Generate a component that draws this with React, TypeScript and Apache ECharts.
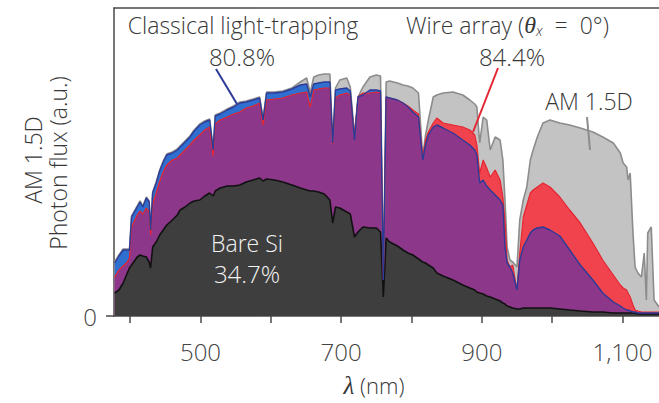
import React, { useEffect, useRef } from "react";
import * as echarts from "echarts";

// Wavelength grid (nm)
const wavelengths = [
  378, 384, 390, 396, 399, 402, 410, 414, 418, 423, 427, 429, 432, 437, 442, 447, 452, 460, 467, 471,
  478, 485, 491, 499, 506, 513, 518, 521, 528, 538, 547, 556, 565, 575, 584, 589, 594, 605, 617, 630,
  642, 651, 656, 661, 668, 676, 684, 688, 692, 698, 708, 713, 719, 724, 731, 741, 750, 756, 760, 764,
  769, 780, 788, 795, 802, 810, 816, 820, 824, 831, 836, 845, 859, 873, 883, 890, 893, 897, 902, 907,
  912, 919, 926, 930, 933, 936, 940, 944, 950, 954, 959, 964, 969, 973, 979, 987, 997, 1011, 1025, 1040,
  1058, 1072, 1087, 1097, 1101, 1106, 1108, 1111, 1115, 1118, 1122, 1127, 1131, 1134, 1136, 1141, 1145, 1152,
];

// AM 1.5D photon flux (a.u.)
const am15d = [
  54, 61, 67, 67, 67, 100, 110, 115, 110, 119, 115, 88, 124, 134, 146, 155, 162, 164, 167, 170,
  175, 180, 186, 192, 195, 197, 168, 201, 203, 207, 210, 214, 215, 217, 219, 198, 224, 224, 225, 228,
  234, 238, 223, 239, 241, 242, 242, 174, 228, 236, 238, 229, 181, 219, 229, 239, 241, 240, 36, 234,
  235, 233, 231, 230, 228, 223, 159, 181, 196, 219, 221, 223, 224, 221, 216, 212, 209, 173, 199, 196,
  166, 179, 176, 156, 116, 69, 56, 54, 49, 96, 116, 129, 156, 166, 179, 193, 196, 193, 191, 188,
  184, 179, 173, 163, 153, 149, 136, 143, 83, 49, 43, 39, 63, 16, 83, 89, 16, 9,
];

// Classical light-trapping absorbed flux
const classical = [
  53, 60, 66, 66, 66, 99, 109, 114, 109, 118, 114, 86, 123, 133, 145, 154, 161, 163, 166, 169,
  174, 179, 185, 191, 194, 196, 166, 200, 202, 206, 209, 213, 214, 216, 218, 196, 223, 223, 224, 227,
  231, 232, 219, 232, 233, 234, 234, 173, 226, 227, 228, 225, 176, 219, 221, 226, 226, 225, 36, 219,
  218, 216, 213, 209, 204, 199, 156, 171, 181, 189, 191, 188, 183, 176, 171, 166, 161, 133, 136, 130,
  126, 121, 116, 111, 69, 53, 49, 43, 26, 56, 69, 76, 83, 86, 88, 89, 86, 80, 66, 51,
  36, 23, 14, 10, 8, 6, 6, 5, 4, 4, 3, 3, 3, 3, 3, 3, 3, 3,
];

// Wire array (theta_x = 0) absorbed flux
const wireArray = [
  39, 46, 50, 54, 58, 89, 101, 105, 102, 108, 104, 81, 112, 123, 135, 144, 151, 156, 158, 161,
  166, 171, 176, 181, 186, 189, 160, 192, 196, 199, 202, 204, 208, 210, 213, 191, 216, 217, 218, 221,
  223, 224, 209, 226, 227, 228, 228, 172, 218, 221, 223, 221, 180, 219, 223, 223, 224, 223, 36, 219,
  218, 216, 213, 210, 206, 202, 159, 176, 184, 193, 198, 193, 191, 189, 186, 181, 171, 143, 156, 148,
  139, 146, 136, 119, 96, 56, 49, 51, 26, 63, 99, 111, 123, 126, 129, 133, 129, 119, 106, 93,
  73, 56, 41, 31, 28, 26, 23, 19, 11, 6, 5, 4, 4, 4, 4, 4, 4, 4,
];

// Bare Si absorbed flux
const bareSi = [
  23, 26, 33, 43, 48, 51, 59, 61, 60, 59, 54, 48, 69, 74, 81, 86, 91, 96, 101, 106,
  109, 113, 115, 116, 120, 123, 120, 125, 128, 130, 130, 131, 134, 136, 138, 135, 137, 136, 134, 131,
  128, 126, 125, 125, 124, 122, 116, 93, 109, 108, 104, 102, 79, 84, 89, 88, 88, 84, 19, 78,
  74, 70, 66, 63, 61, 57, 54, 53, 51, 48, 43, 40, 36, 31, 28, 26, 24, 23, 22, 20,
  19, 17, 15, 13, 12, 10, 9, 8, 7, 7, 8, 8, 8, 8, 8, 8, 8, 7, 6, 5,
  4, 4, 3, 3, 3, 3, 3, 3, 3, 3, 2, 2, 2, 2, 2, 2, 2, 2,
];

const tickValues = [400, 500, 600, 700, 800, 900, 1000, 1100];
const labelValues = [500, 700, 900, 1100];
const yLabelValues = [0];

const FONT = "Open Sans";
const AXIS = "#4a4a4a";
const TXT = "#383838";

export default function App() {
  const ref = useRef<HTMLDivElement>(null);
  useEffect(() => {
    if (!ref.current) return;
    const chart = echarts.init(ref.current, undefined, { renderer: "svg" });
    const pairs = (arr: number[]) => wavelengths.map((w, i) => [w, arr[i]]);
    const overlap = wavelengths.map((w, i) => [w, Math.min(classical[i], wireArray[i])]);
    const areaSeries = (name: string, data: number[][], fill: string, line: string | null, lw: number) => ({
      name,
      type: "line",
      data,
      showSymbol: false,
      symbol: "none",
      silent: true,
      lineStyle: line ? { color: line, width: lw } : { width: 0, opacity: 0 },
      areaStyle: { color: fill, opacity: 1 },
      z: 2,
    });
    const lineSeries = (name: string, data: number[][], color: string, lw: number) => ({
      name,
      type: "line",
      data,
      showSymbol: false,
      symbol: "none",
      silent: true,
      lineStyle: { color, width: lw },
      z: 3,
    });
    const txt = (text: string, x: number, y: number, size: number, fill = TXT, extra: any = {}) => ({
      type: "text",
      x,
      y,
      z: 10,
      ...extra,
      style: { text, fontSize: size, fontFamily: FONT, fontWeight: 300, fill, align: "center", verticalAlign: "middle", ...(extra.style || {}) },
    });
    chart.setOption({
      animation: false,
      backgroundColor: "#ffffff",
      grid: { left: 114, right: 0, top: 8, bottom: 87 },
      xAxis: [
        {
          type: "value",
          min: 377,
          max: 1152,
          axisLine: { show: true, onZero: false, lineStyle: { color: AXIS, width: 1.5 } },
          axisTick: { show: true, customValues: tickValues, length: 7, lineStyle: { color: AXIS, width: 1.5 } },
          axisLabel: {
            customValues: labelValues,
            formatter: (v: number) => (v >= 1000 ? v.toLocaleString("en-US") : String(v)),
            margin: 23,
            fontSize: 24,
            fontWeight: 300,
            color: "#444",
            fontFamily: FONT,
          },
          splitLine: { show: false },
        },
        {
          type: "value",
          position: "top",
          min: 377,
          max: 1152,
          axisLine: { show: true, onZero: false, lineStyle: { color: AXIS, width: 1.5 } },
          axisTick: { show: false },
          axisLabel: { show: false },
          splitLine: { show: false },
        },
      ],
      yAxis: {
        type: "value",
        min: 0,
        max: 308,
        axisLine: { show: true, lineStyle: { color: AXIS, width: 1.5 } },
        axisTick: { show: true, customValues: yLabelValues, length: 8, lineStyle: { color: AXIS, width: 1.5 } },
        axisLabel: { customValues: yLabelValues, margin: 17, fontSize: 24, fontWeight: 300, color: "#444", fontFamily: FONT },
        splitLine: { show: false },
      },
      series: [
        areaSeries("AM 1.5D", pairs(am15d), "#c3c3c3", "#8c8c8c", 1.6),
        areaSeries("Classical", pairs(classical), "#2f6fcf", null, 0),
        areaSeries("Wire", pairs(wireArray), "#f0434d", null, 0),
        areaSeries("Overlap", overlap, "#8d378b", null, 0),
        lineSeries("Wire line", pairs(wireArray), "#e52631", 1.2),
        lineSeries("Classical line", pairs(classical), "#2c3a98", 1.4),
        areaSeries("Bare Si", pairs(bareSi), "#3e3e3e", "#111111", 1.6),
      ],
      graphic: [
        { type: "line", shape: { x1: 216, y1: 69, x2: 237, y2: 104 }, style: { stroke: "#2c3a98", lineWidth: 2 }, z: 10 },
        { type: "line", shape: { x1: 498, y1: 68, x2: 473, y2: 132 }, style: { stroke: "#e52631", lineWidth: 2 }, z: 10 },
        { type: "line", shape: { x1: 587, y1: 117, x2: 590, y2: 150 }, style: { stroke: "#8c8c8c", lineWidth: 2 }, z: 10 },
        txt("Classical light-trapping", 243, 25, 23),
        txt("80.8%", 242, 56, 24),
        {
          type: "text", x: 406, y: 25, z: 10,
          style: {
            text: "Wire array ({th|θ}{sub|x}  =  0°)",
            fontSize: 23, fontFamily: FONT, fontWeight: 300, fill: TXT, align: "left", verticalAlign: "middle",
            rich: {
              th: { fontSize: 24, fontFamily: "Liberation Serif", fontStyle: "italic", fill: TXT },
              sub: { fontSize: 14, fontFamily: FONT, fontStyle: "italic", fontWeight: 300, fill: TXT, verticalAlign: "bottom", padding: [10, 0, 0, 0] },
            },
          },
        },
        txt("84.4%", 512, 56, 24),
        txt("AM 1.5D", 589, 101, 23),
        txt("Bare Si", 247, 243, 23, "#f2f2f2"),
        txt("34.7%", 247, 273, 24, "#f2f2f2"),
        txt("AM 1.5D", 33, 160, 23, TXT, { rotation: Math.PI / 2 }),
        txt("Photon flux (a.u.)", 58, 163, 23, TXT, { rotation: Math.PI / 2 }),
        {
          type: "text", x: 374, y: 385, z: 10,
          style: {
            text: "{l|λ} (nm)",
            fontSize: 22, fontFamily: FONT, fontWeight: 300, fill: TXT, align: "center", verticalAlign: "middle",
            rich: { l: { fontSize: 25, fontFamily: "Liberation Serif", fontStyle: "italic", fill: TXT } },
          },
        },
      ],
    });
    return () => chart.dispose();
  }, []);
  return <div ref={ref} style={{ width: 659, height: 403, position: "absolute", left: 0, top: 0 }} />;
}
